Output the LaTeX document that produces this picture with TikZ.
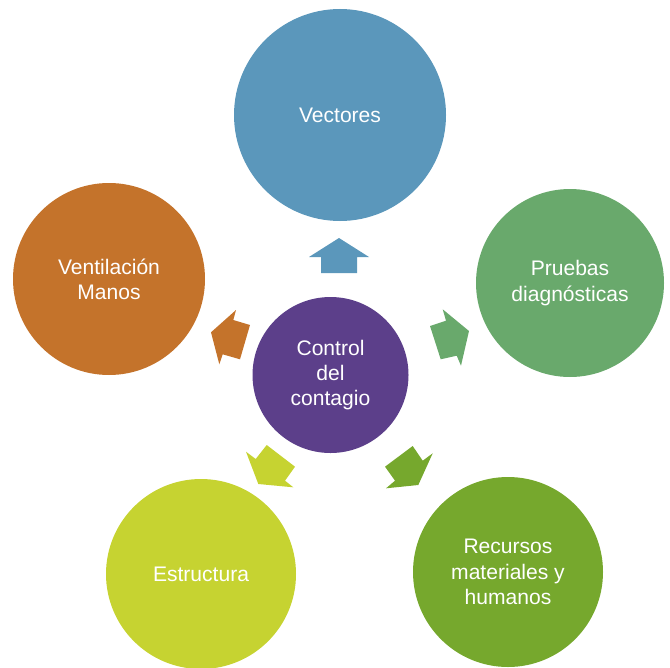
\documentclass[tikz,border=0pt]{standalone}
\usepackage{fontspec}
\setmainfont{Liberation Sans}
\definecolor{cvec}{HTML}{5B97BB}
\definecolor{cpru}{HTML}{69A96C}
\definecolor{crec}{HTML}{76A82D}
\definecolor{cest}{HTML}{C6D331}
\definecolor{cven}{HTML}{C4732B}
\definecolor{cctr}{HTML}{5C3F8A}
\begin{document}
\begin{tikzpicture}[x=0.75pt,y=-0.75pt,
  bubble/.style={circle,draw=none,inner sep=0pt,text=white,align=center,
    font=\fontsize{15.8}{18.9}\selectfont}]
\useasboundingbox (0,0) rectangle (670,667);
% circles
\node[bubble,fill=cvec,minimum size=159pt] (vec) at (340,115) {Vectores};
\node[bubble,fill=cpru,minimum size=141pt] (pru) at (570,283) {Pruebas\\diagnósticas};
\node[bubble,fill=cven,minimum size=144pt] (ven) at (109,279) {Ventilación\\Manos};
\node[bubble,fill=cest,minimum size=142.5pt] (est) at (201,574) {Estructura};
\node[bubble,fill=crec,minimum size=142.5pt] (rec) at (508,572) {Recursos\\materiales y\\humanos};
\node[bubble,fill=cctr,minimum size=117pt] (ctr) at (330.5,375) {Control\\del\\contagio};
% block arrows pointing outward from the centre
\fill[cvec] (339,238) -- (369,257) -- (357,257) -- (357,273) -- (321,273) -- (321,257) -- (309,257) -- cycle;
\fill[cven] (211,332.3) -- (236,310) -- (233.3,320) -- (250,325) -- (240,359.3) -- (222.7,354.3) -- (219.3,364.3) -- cycle;
\fill[cpru] (469,331) -- (442.7,309.3) -- (446,320.7) -- (430,326) -- (440.7,359.3) -- (456.7,355.7) -- (461,365.7) -- cycle;
\fill[cest] (258.3,484) -- (246,451.7) -- (255.7,459) -- (266.7,445) -- (295,466.7) -- (285,480.7) -- (293.3,487.3) -- cycle;
\fill[crec] (418.3,485) -- (386,488.3) -- (395,480.7) -- (385,466.7) -- (412.7,446) -- (422.7,460.7) -- (432.7,453.3) -- cycle;
\end{tikzpicture}
\end{document}
